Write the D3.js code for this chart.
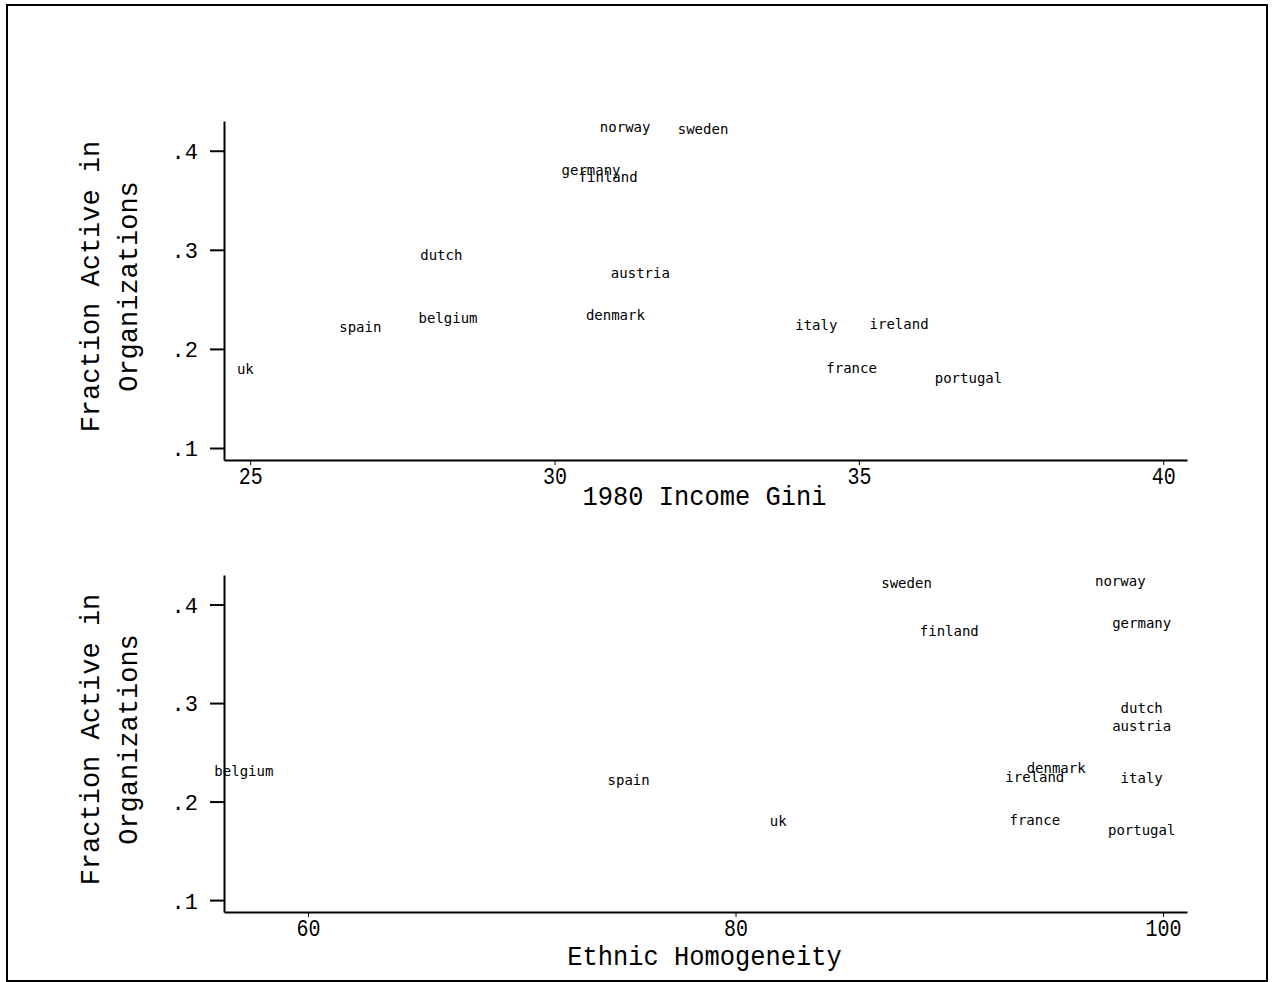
<!DOCTYPE html>
<html>
<head>
<meta charset="utf-8">
<script src="https://cdn.jsdelivr.net/npm/d3@7"></script>
<style>
  body { margin: 0; background: #fff; }
  text { fill: #000; }
</style>
</head>
<body>
<div id="vis"></div>
<script>
// countries and their values
var countries = ["norway", "sweden", "germany", "finland", "dutch", "austria", "spain",
                 "belgium", "denmark", "italy", "ireland", "uk", "france", "portugal"];
var active  = [0.423, 0.421, 0.380, 0.372, 0.294, 0.276, 0.221,
               0.230, 0.233, 0.223, 0.224, 0.179, 0.180, 0.170];
var gini    = [31.16, 32.44, 30.60, 30.88, 28.14, 31.41, 26.81,
               28.25, 31.00, 34.30, 35.66, 24.92, 34.88, 36.80];
var homog   = [98.0, 88.0, 99.0, 90.0, 99.0, 99.0, 75.0,
               57.0, 95.0, 99.0, 94.0, 82.0, 94.0, 99.0];

var yTicks = [0.1, 0.2, 0.3, 0.4];
var giniTicks = [25, 30, 35, 40];
var homogTicks = [60, 80, 100];

var W = 1273, H = 982;
var thinFont = "Liberation Mono";

var svg = d3.select("#vis").append("svg")
    .attr("width", W)
    .attr("height", H);

svg.append("rect")
    .attr("x", 7).attr("y", 5)
    .attr("width", 1260).attr("height", 976)
    .attr("fill", "none")
    .attr("stroke", "#000")
    .attr("stroke-width", 2);

var fmtY = function(d) { return d3.format(".1f")(d).replace(/^0/, ""); };

function panel(top, bottom, xvals, xdomain, xticks, xtitle, titleOff) {
  var left = 224, right = 1187;

  var x = d3.scaleLinear().domain(xdomain).range([left, right]);
  var y = d3.scaleLinear().domain([0.0879, 0.430]).range([bottom, top]);

  // y axis
  var gy = svg.append("g")
      .attr("transform", "translate(" + left + ",0)")
      .call(d3.axisLeft(y).tickValues(yTicks).tickFormat(fmtY)
        .tickSize(14).tickPadding(12).tickSizeOuter(0));
  gy.select(".domain").attr("stroke-width", 2);
  gy.selectAll(".tick line").attr("stroke-width", 2);
  gy.selectAll(".tick text")
      .attr("font-family", thinFont)
      .attr("font-size", 22)
      .attr("dy", "0.36em")
      .attr("fill", "#000");

  // x axis
  var gx = svg.append("g")
      .attr("transform", "translate(0," + bottom + ")")
      .call(d3.axisBottom(x).tickValues(xticks).tickFormat(d3.format("d"))
        .tickSize(5).tickPadding(2).tickSizeOuter(0));
  gx.select(".domain").attr("stroke-width", 2);
  gx.selectAll(".tick line").attr("stroke-width", 1);
  gx.selectAll(".tick text")
      .attr("font-family", thinFont)
      .attr("font-size", 24)
      .attr("textLength", function(d) { return String(d).length * 12; })
      .attr("lengthAdjust", "spacingAndGlyphs")
      .attr("fill", "#000");

  // x title
  svg.append("text")
      .attr("x", (left + right) / 2 - 1)
      .attr("y", bottom + titleOff)
      .attr("text-anchor", "middle")
      .attr("dominant-baseline", "middle")
      .attr("font-family", thinFont)
      .attr("font-size", 28)
      .attr("textLength", xtitle.length * 15.25)
      .attr("lengthAdjust", "spacingAndGlyphs")
      .text(xtitle);

  // y title, two lines
  var cy = (top + bottom) / 2 - 4;
  var yt = svg.append("text")
      .attr("transform", "translate(109," + cy + ") rotate(-90)")
      .attr("text-anchor", "middle")
      .attr("font-family", thinFont)
      .attr("font-size", 27);
  yt.append("tspan").attr("x", 0).attr("y", -10).text("Fraction Active in");
  yt.append("tspan").attr("x", 0).attr("y", 28).text("Organizations");

  // country labels as markers
  svg.append("g").selectAll("text")
      .data(countries)
      .enter().append("text")
      .attr("x", function(d, i) { return x(xvals[i]); })
      .attr("y", function(d, i) { return y(active[i]); })
      .attr("text-anchor", "middle")
      .attr("dominant-baseline", "middle")
      .attr("font-family", "DejaVu Sans Mono")
      .attr("font-size", 14)
      .text(function(d) { return d; });
}

panel(121, 460, gini, [24.57, 40.39], giniTicks, "1980 Income Gini", 38);
panel(575, 912, homog, [56.07, 101.12], homogTicks, "Ethnic Homogeneity", 46);
</script>
</body>
</html>
